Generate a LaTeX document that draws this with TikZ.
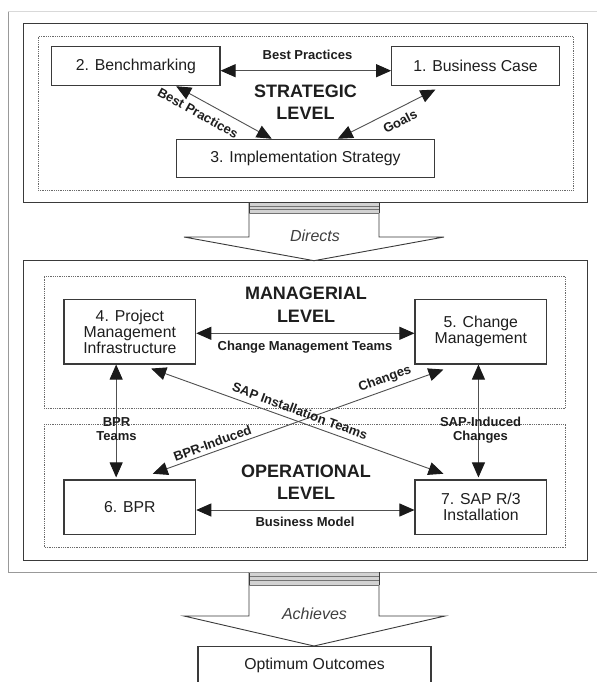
\documentclass[tikz,border=0pt]{standalone}
\usepackage{fontspec}
\setmainfont{Liberation Sans}
\usetikzlibrary{arrows.meta,calc}
\definecolor{txt}{HTML}{1E1E1E}
\definecolor{boxc}{HTML}{3A3A3A}
\definecolor{connc}{HTML}{505050}
\definecolor{tipc}{HTML}{1A1A1A}
\definecolor{dotc}{HTML}{6A6A6A}
\begin{document}
\begin{tikzpicture}[x=1pt,y=-1pt,
  box/.style={draw=boxc,line width=1.1pt,inner sep=0pt,align=center,
    font=\fontsize{15.8}{16}\selectfont,text=txt},
  lbl/.style={font=\bfseries\fontsize{13}{13.7}\selectfont,text=txt,inner sep=0pt,align=center},
  lvl/.style={font=\bfseries\fontsize{18}{22.5}\selectfont,text=txt,inner sep=0pt,align=center},
  ital/.style={font=\itshape\fontsize{16}{16}\selectfont,text=txt!85,inner sep=0pt},
  conn/.style={draw=connc,line width=0.9pt,
    {Triangle[length=15pt,width=13pt,color=tipc]}-{Triangle[length=15pt,width=13pt,color=tipc]}},
  frame/.style={draw=boxc,line width=1.1pt},
  dotbox/.style={draw=dotc,line width=0.8pt,densely dotted},
  bigarrow/.style={draw=boxc,line width=0.9pt,fill=white},
  band/.style={draw=gray!90!black,line width=1pt}
]
\useasboundingbox (0,0) rectangle (597,682);
\clip (0,0) rectangle (597,682);
\fill[white] (0,0) rectangle (597,682);

% outer page frame
\draw[gray!30,line width=0.9pt] (8,11.7) -- (597,11.7);
\draw[gray!80,line width=1pt] (8,11.7) -- (8,572.3) -- (597,572.3);

% strategic level
\draw[frame] (23.3,23.3) rectangle (587.3,202.7);
\draw[dotbox] (38.3,36.7) rectangle (573.3,190);

% managerial / operational
\draw[frame] (23.3,260.7) rectangle (587.3,560.7);
\draw[dotbox] (44,276.7) rectangle (565.7,408);
\draw[dotbox] (44,424) rectangle (565.7,547.3);

% big arrow "Directs"
\draw[bigarrow] (249,202.7) -- (249,237) -- (184,237) -- (314,260.7) -- (444,237) -- (379,237) -- (379,202.7);
\fill[gray!35] (249,202.7) rectangle (379,213);
\draw[band] (249,206.2) -- (379,206.2);
\draw[band] (249,209.6) -- (379,209.6);
\draw[band] (249,213) -- (379,213);
\draw[boxc,line width=0.9pt] (249,202.7) -- (249,213) (379,202.7) -- (379,213);
\draw[frame] (249,202.7) -- (379,202.7);
\node[ital] (directs) at (315,236) {Directs};

% big arrow "Achieves"
\draw[bigarrow] (249,572.3) -- (249,616) -- (184,616) -- (314,646) -- (445,616) -- (379,616) -- (379,572.3);
\fill[gray!35] (249,572.3) rectangle (379,585);
\draw[band] (249,576.5) -- (379,576.5);
\draw[band] (249,580.7) -- (379,580.7);
\draw[band] (249,585) -- (379,585);
\draw[boxc,line width=0.9pt] (249,572.3) -- (249,585) (379,572.3) -- (379,585);
\draw[gray!80,line width=1pt] (249,572.3) -- (379,572.3);
\node[ital] (achieves) at (314.5,613.5) {Achieves};

% boxes
\node[box,minimum width=168.3pt,minimum height=38.6pt] (b2) at (135.85,66) {2. Benchmarking};
\node[box,minimum width=167.6pt,minimum height=38.6pt] (b1) at (475.5,66) {1. Business Case};
\node[box,minimum width=257.6pt,minimum height=38.4pt] (b3) at (305.5,158.5) {3. Implementation Strategy};
\node[box,minimum width=131.7pt,minimum height=64.7pt] (b4) at (129.85,331.65) {4. Project\\Management\\Infrastructure};
\node[box,minimum width=131.7pt,minimum height=64.7pt] (b5) at (480.85,331.65) {5. Change\\Management};
\node[box,minimum width=131.7pt,minimum height=54.3pt] (b6) at (129.85,507.15) {6. BPR};
\node[box,minimum width=131.7pt,minimum height=54.3pt] (b7) at (480.85,507.15) {7. SAP R/3\\Installation};
\node[box,minimum width=233pt,minimum height=54pt,anchor=north] (bo) at (314.5,646) {};
\node[font=\fontsize{15.8}{16}\selectfont,text=txt,inner sep=0pt] (botxt) at (314.5,665.5) {Optimum Outcomes};

% level titles
\node[lvl] (strat) at (305.5,102) {STRATEGIC\\LEVEL};
\node[lvl] (manag) at (306,304.6) {MANAGERIAL\\LEVEL};
\node[lvl] (oper) at (306,482) {OPERATIONAL\\LEVEL};

% connectors: strategic
\draw[conn] ([yshift=-4.7pt]b2.east) -- ([yshift=-4.7pt]b1.west);
\draw[conn] ($(b2.south west)+(125,0.4)$) -- ($(b3.north west)+(95.6,0)$);
\draw[conn] ($(b3.north west)+(161.6,0)$) -- ($(b1.south west)+(44.3,3.7)$);

% connectors: managerial / operational
\draw[conn] ([yshift=-1.65pt]b4.east) -- ([yshift=-1.65pt]b5.west);
\draw[conn] ([yshift=-2.85pt]b6.east) -- ([yshift=-2.85pt]b7.west);
\draw[conn] ($(b4.south west)+(52.7,0)$) -- ($(b6.north west)+(52.7,-2)$);
\draw[conn] ($(b5.south west)+(64,0)$) -- ($(b7.north west)+(64,-2)$);
\draw[conn] ($(b4.south west)+(87.7,4)$) -- ($(b7.north west)+(29,-5.7)$);
\draw[conn] ($(b5.south west)+(29,5)$) -- ($(b6.north west)+(89.3,-5.7)$);

% connector labels
\node[lbl] (lbp1) at (307.5,55) {Best Practices};
\node[lbl,rotate=-29] (lbp2) at (198,113) {Best Practices};
\node[lbl,rotate=27] (lgoals) at (400,121.5) {Goals};
\node[lbl] (lcmt) at (305,347) {Change Management Teams};
\node[lbl] (lbm) at (305,521.5) {Business Model};
\node[lbl] (lbprt) at (116.5,429.2) {BPR\\Teams};
\node[lbl] (lsapc) at (480.5,430.3) {SAP-Induced\\Changes};
\node[lbl,rotate=-20] (lsapt) at (300,411) {SAP Installation Teams};
\node[lbl,rotate=20] (lchg) at (385,379) {Changes};
\node[lbl,rotate=20] (lbpri) at (212.5,443) {BPR-Induced};
\end{tikzpicture}
\end{document}
